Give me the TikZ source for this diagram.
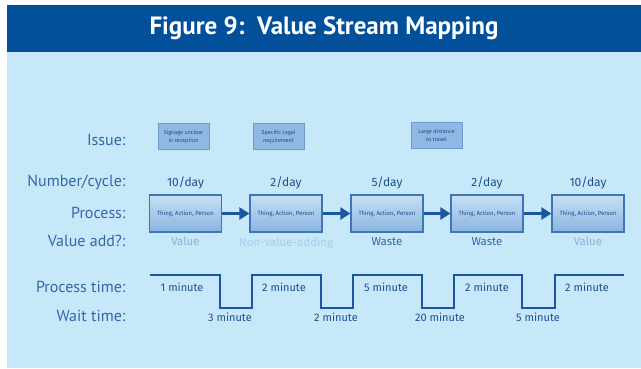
\documentclass[tikz,border=0pt]{standalone}
\usepackage{fontspec}
\setmainfont{PT Sans}
\newfontfamily\handfont{Fira Sans}
\usetikzlibrary{arrows.meta,positioning}

\definecolor{headblue}{HTML}{02509A}
\definecolor{paleblue}{HTML}{C7E8F8}
\definecolor{labelblue}{HTML}{3467A7}
\definecolor{inkblue}{HTML}{1F4F8F}
\definecolor{boxedge}{HTML}{3F74B5}
\definecolor{boxtop}{HTML}{C6E0F5}
\definecolor{boxbot}{HTML}{8AB4DF}
\definecolor{issuefill}{HTML}{8FB8E2}
\definecolor{issueedge}{HTML}{6E9BCF}
\definecolor{arrowblue}{HTML}{1C56A0}
\definecolor{valuepale}{HTML}{8EB1D4}
\definecolor{nvapale}{HTML}{A9CDEB}

\tikzset{
  rowlabel/.style={anchor=east,text=labelblue,font=\fontsize{16}{16}\selectfont},
  proc/.style={draw=boxedge,line width=1.2pt,top color=boxtop,bottom color=boxbot,
    minimum width=72pt,minimum height=37pt,inner sep=0pt,
    font=\handfont\fontsize{6}{7}\selectfont,text=inkblue},
  issue/.style={draw=issueedge,line width=0.8pt,fill=issuefill,
    minimum width=51pt,minimum height=26pt,inner sep=1pt,align=center,
    font=\handfont\fontsize{5.5}{8}\selectfont,text=inkblue},
  rate/.style={font=\handfont\fontsize{12}{12}\selectfont,text=inkblue},
  worth/.style={font=\handfont\fontsize{11.5}{12}\selectfont},
  flow/.style={line width=3pt,draw=arrowblue,-{Triangle[length=10pt,width=12pt]}},
  steps/.style={line width=2pt,draw=arrowblue},
  mins/.style={font=\handfont\fontsize{11}{11}\selectfont,text=inkblue}
}

\begin{document}
\begin{tikzpicture}[x=1pt,y=-1pt]
  %%%%%%%%%% Sfondo %%%%%%%%%%
  \useasboundingbox (0,0) rectangle (641,368);
  \fill[white] (0,0) rectangle (641,368);
  \fill[headblue] (7,5) rectangle (641,52);
  \fill[paleblue] (7,52) rectangle (641,368);
  \node[font=\bfseries\fontsize{25}{25}\selectfont,text=white] (title) at (324,28) {Figure 9:\ \ Value Stream Mapping};

  %%%%%%%%%% Etichette %%%%%%%%%%
  \node[rowlabel] (issuelbl) at (129,140) {Issue:};
  \node[rowlabel] (ratelbl) at (129,182) {Number/cycle:};
  \node[rowlabel] (proclbl) at (129,213) {Process:};
  \node[rowlabel] (valuelbl) at (129,241) {Value add?:};
  \node[rowlabel] (ptimelbl) at (129,287) {Process time:};
  \node[rowlabel] (wtimelbl) at (129,316) {Wait time:};

  %%%%%%%%%% Problemi %%%%%%%%%%
  \node[issue] (i1) at (183.5,136.5) {Signage unclear\\in reception};
  \node[issue] (i2) at (278.5,136.5) {Specific Legal\\requirement};
  \node[issue] (i3) at (436.5,135) {Large distance\\to travel};

  %%%%%%%%%% Nodi %%%%%%%%%%
  \node[proc] (p1) at (185.5,213.5) {Thing, Action, Person};
  \node[proc] (p2) at (286,213.5) {Thing, Action, Person};
  \node[proc] (p3) at (387,213.5) {Thing, Action, Person};
  \node[proc] (p4) at (487,213.5) {Thing, Action, Person};
  \node[proc] (p5) at (588,213.5) {Thing, Action, Person};

  \node[rate,above=2pt of p1] (r1) {10/day};
  \node[rate,above=2pt of p2] (r2) {2/day};
  \node[rate,above=2pt of p3] (r3) {5/day};
  \node[rate,above=2pt of p4] (r4) {2/day};
  \node[rate,above=2pt of p5] (r5) {10/day};

  \node[worth,text=valuepale,below=1pt of p1] (v1) {Value};
  \node[worth,text=nvapale,below=1pt of p2] (v2) {Non-value-adding};
  \node[worth,text=labelblue,below=1pt of p3] (v3) {Waste};
  \node[worth,text=labelblue,below=1pt of p4] (v4) {Waste};
  \node[worth,text=valuepale,below=1pt of p5] (v5) {Value};

  %%%%%%%%% Frecce %%%%%%%%%
  \draw[flow] (p1) -- (p2);
  \draw[flow] (p2) -- (p3);
  \draw[flow] (p3) -- (p4);
  \draw[flow] (p4) -- (p5);

  %%%%%%%%% Tempi %%%%%%%%%
  \draw[steps] (150,275) -- (220,275) -- (220,308) -- (252,308) -- (252,275)
    -- (321,275) -- (321,308) -- (353,308) -- (353,275)
    -- (422,275) -- (422,308) -- (454,308) -- (454,275)
    -- (522,275) -- (522,308) -- (555,308) -- (555,275) -- (624,275);

  \node[mins] (t1) at (182,287) {1 minute};
  \node[mins] (t2) at (284,287) {2 minute};
  \node[mins] (t3) at (386,287) {5 minute};
  \node[mins] (t4) at (487,287) {2 minute};
  \node[mins] (t5) at (587,287) {2 minute};

  \node[mins] (w1) at (230,317) {3 minute};
  \node[mins] (w2) at (336,317) {2 minute};
  \node[mins] (w3) at (440,317) {20 minute};
  \node[mins] (w4) at (538,317) {5 minute};
\end{tikzpicture}
\end{document}
